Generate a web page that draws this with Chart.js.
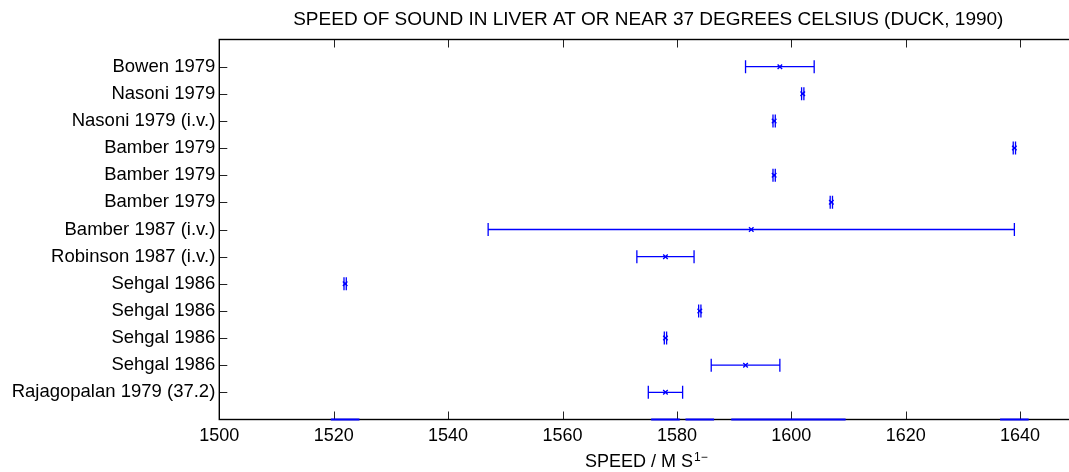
<!DOCTYPE html>
<html>
<head>
<meta charset="utf-8">
<script src="https://cdn.jsdelivr.net/npm/chart.js@4.4.1/dist/chart.umd.min.js"></script>
<style>
  html, body { margin: 0; padding: 0; background: #fff; overflow: hidden; }
  #wrap { width: 1090px; height: 472px; }
</style>
</head>
<body>
<div id="wrap"><canvas id="c"></canvas></div>
<script>
/* data, top row first */
const studies = [
  'Bowen 1979', 'Nasoni 1979', 'Nasoni 1979 (i.v.)', 'Bamber 1979', 'Bamber 1979',
  'Bamber 1979', 'Bamber 1987 (i.v.)', 'Robinson 1987 (i.v.)', 'Sehgal 1986',
  'Sehgal 1986', 'Sehgal 1986', 'Sehgal 1986', 'Rajagopalan 1979 (37.2)'
];
const speed  = [1598, 1602, 1597, 1639, 1597, 1607, 1593, 1578, 1522, 1584, 1578, 1592, 1578];
const spread = [6, 0.2, 0.2, 0.2, 0.2, 0.2, 46, 5, 0.2, 0.2, 0.2, 6, 3];
const xTicks = [1500, 1520, 1540, 1560, 1580, 1600, 1620, 1640];

const TITLE = 'SPEED OF SOUND IN LIVER AT OR NEAR 37 DEGREES CELSIUS (DUCK, 1990)';
const XLAB  = 'SPEED / M S';
const XSUP  = '1\u2212';

const BLUE = '#0000ff';
const FONT = '"Liberation Sans", Arial, Helvetica, sans-serif';
const CAP  = 6.5;   // error-bar cap half height (px)
const TICK = 8;     // inward tick length (px)

// row i sits at y = n - i, so y = 0 is the bottom of the axes
const rowY = i => studies.length - i;

const decor = {
  id: 'decor',
  beforeDatasetsDraw(chart) {
    const { ctx, scales: { x, y } } = chart;
    ctx.save();
    ctx.strokeStyle = BLUE;
    ctx.lineWidth = 1.3;
    speed.forEach((v, i) => {
      const py = y.getPixelForValue(rowY(i));
      const x0 = x.getPixelForValue(v - spread[i]);
      const x1 = x.getPixelForValue(v + spread[i]);
      ctx.beginPath();
      ctx.moveTo(x0, py); ctx.lineTo(x1, py);
      ctx.moveTo(x0, py - CAP); ctx.lineTo(x0, py + CAP);
      ctx.moveTo(x1, py - CAP); ctx.lineTo(x1, py + CAP);
      ctx.stroke();
    });
    ctx.restore();
  },
  afterDraw(chart) {
    const { ctx, chartArea: a, scales: { x, y } } = chart;
    ctx.save();

    // ticks pointing inwards, on all four sides
    ctx.strokeStyle = '#222';
    ctx.lineWidth = 1;
    ctx.beginPath();
    xTicks.forEach(t => {
      const px = Math.round(x.getPixelForValue(t)) + 0.5;
      ctx.moveTo(px, a.top); ctx.lineTo(px, a.top + TICK);
      ctx.moveTo(px, a.bottom); ctx.lineTo(px, a.bottom - TICK);
    });
    studies.forEach((s, i) => {
      const py = Math.round(y.getPixelForValue(rowY(i))) + 0.5;
      ctx.moveTo(a.left, py); ctx.lineTo(a.left + TICK, py);
      ctx.moveTo(a.right, py); ctx.lineTo(a.right - TICK, py);
    });
    ctx.stroke();

    // axes box
    ctx.strokeStyle = '#000';
    ctx.lineWidth = 1.4;
    ctx.strokeRect(a.left, a.top, a.right - a.left, a.bottom - a.top);

    // stray error-bar caps lying on the x axis (y = 0)
    ctx.strokeStyle = BLUE;
    ctx.lineWidth = 2;
    ctx.beginPath();
    speed.forEach(v => {
      const py = y.getPixelForValue(0);
      ctx.moveTo(x.getPixelForValue(v - 2.5), py);
      ctx.lineTo(x.getPixelForValue(v + 2.5), py);
    });
    ctx.stroke();

    // title + x label, centred on the axes
    const cx = (a.left + a.right) / 2;
    ctx.fillStyle = '#000';
    ctx.textBaseline = 'alphabetic';
    ctx.textAlign = 'center';
    ctx.font = '19px ' + FONT;
    ctx.fillText(TITLE, cx, 25);

    ctx.textAlign = 'left';
    ctx.font = '18px ' + FONT;
    const w1 = ctx.measureText(XLAB).width;
    ctx.font = '12px ' + FONT;
    const w2 = ctx.measureText(XSUP).width;
    const x0 = cx - (w1 + w2 + 1) / 2 - 2;
    ctx.font = '18px ' + FONT;
    ctx.fillText(XLAB, x0, 467);
    ctx.font = '12px ' + FONT;
    ctx.fillText(XSUP, x0 + w1 + 1, 461);
    ctx.restore();
  }
};

new Chart(document.getElementById('c'), {
  type: 'scatter',
  data: {
    datasets: [{
      data: speed.map((v, i) => ({ x: v, y: rowY(i) })),
      pointStyle: 'crossRot',
      radius: 3.2,
      hoverRadius: 3.2,
      borderColor: BLUE,
      backgroundColor: BLUE,
      borderWidth: 1.4
    }]
  },
  options: {
    responsive: true,
    maintainAspectRatio: false,
    animation: false,
    events: [],
    layout: { padding: { top: 39.5, right: 12.7, bottom: 0, left: 0 } },
    plugins: { legend: { display: false }, title: { display: false }, tooltip: { enabled: false } },
    scales: {
      x: {
        type: 'linear', min: 1500, max: 1650,
        grid: { display: false, drawTicks: false },
        border: { display: false },
        afterBuildTicks: s => { s.ticks = xTicks.map(v => ({ value: v })); },
        ticks: {
          color: '#000', font: { family: FONT, size: 18 }, padding: 6, maxRotation: 0,
          callback: v => String(v)
        },
        afterFit: s => { s.height = 52.5; }
      },
      y: {
        type: 'linear', min: 0, max: studies.length + 1,
        grid: { display: false, drawTicks: false },
        border: { display: false },
        afterBuildTicks: s => { s.ticks = studies.map((n, i) => ({ value: rowY(i) })); },
        ticks: {
          color: '#000', font: { family: FONT, size: 18.5 }, padding: 4, autoSkip: false,
          callback: v => studies[studies.length - v] || ''
        },
        afterFit: s => { s.width = 219.3; }
      }
    }
  },
  plugins: [decor]
});
</script>
</body>
</html>
